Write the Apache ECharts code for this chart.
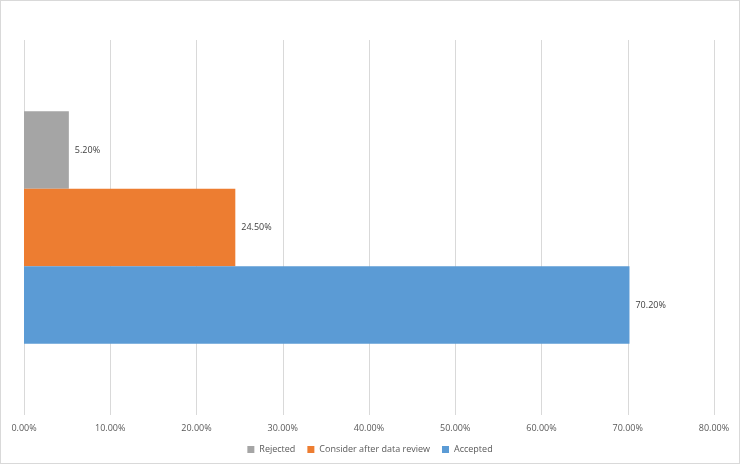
<!DOCTYPE html>
<html>
<head>
<meta charset="utf-8">
<script src="https://cdn.jsdelivr.net/npm/echarts@6/dist/echarts.min.js"></script>
<style>
  html, body { margin: 0; padding: 0; background: #fff; }
  #chart { width: 738px; height: 462px; border: 1px solid #d9d9d9; }
</style>
</head>
<body>
<div id="chart"></div>
<script>
const categories = ["Result"];
const seriesNames = ["Rejected", "Consider after data review", "Accepted"];
const rejected = [5.2];
const consider = [24.5];
const accepted = [70.2];
const colors = ["#a5a5a5", "#ed7d31", "#5b9bd5"];

const myChart = echarts.init(document.getElementById("chart"));

const labelStyle = {
  show: true,
  position: "right",
  distance: 6,
  color: "#404040",
  fontSize: 9,
  fontFamily: "Open Sans",
  formatter: (p) => p.value.toFixed(2) + "%",
};

function makeSeries(name, data, color) {
  return {
    name: name,
    type: "bar",
    data: data,
    barGap: "0%",
    barCategoryGap: "38%",
    itemStyle: { color: color },
    label: labelStyle,
  };
}

const config = {
  animation: false,
  textStyle: { fontFamily: "Open Sans" },
  grid: { left: 23, right: 25, top: 39, bottom: 48 },
  legend: {
    bottom: 4,
    left: "center",
    itemWidth: 7,
    itemHeight: 7,
    itemGap: 12,
    icon: "rect",
    textStyle: { color: "#595959", fontSize: 9, fontFamily: "Open Sans" },
    data: seriesNames,
  },
  xAxis: {
    type: "value",
    min: 0,
    max: 80,
    interval: 10,
    axisLine: { show: false },
    axisTick: { show: false },
    splitLine: { lineStyle: { color: "#d9d9d9" } },
    axisLabel: {
      color: "#595959",
      fontSize: 9,
      margin: 9,
      formatter: (v) => v.toFixed(2) + "%",
    },
  },
  yAxis: {
    type: "category",
    data: categories,
    axisLine: { show: false },
    axisTick: { show: false },
    axisLabel: { show: false },
  },
  series: [
    makeSeries(seriesNames[0], rejected, colors[0]),
    makeSeries(seriesNames[1], consider, colors[1]),
    makeSeries(seriesNames[2], accepted, colors[2]),
  ],
};

myChart.setOption(config);
</script>
</body>
</html>
